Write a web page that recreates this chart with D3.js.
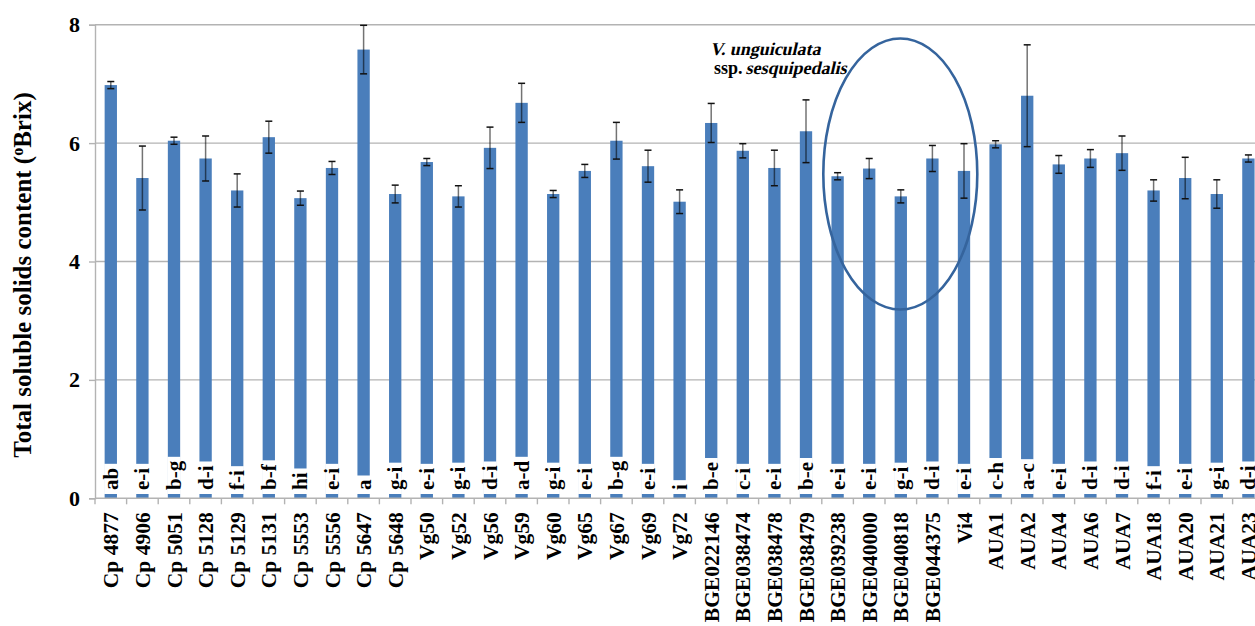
<!DOCTYPE html>
<html>
<head>
<meta charset="utf-8">
<script src="https://cdn.jsdelivr.net/npm/d3@7/dist/d3.min.js"></script>
<style>
  html, body { margin: 0; padding: 0; background: #fff; }
  svg { display: block; font-family: "Liberation Serif", "Times New Roman", serif; }
</style>
</head>
<body>
<svg id="chart" width="1255" height="626"></svg>
<script>
// Accessions (genotypes) along the x axis
const accessions = [
  "Cp 4877", "Cp 4906", "Cp 5051", "Cp 5128", "Cp 5129", "Cp 5131", "Cp 5553", "Cp 5556", "Cp 5647", "Cp 5648",
  "Vg50", "Vg52", "Vg56", "Vg59", "Vg60", "Vg65", "Vg67", "Vg69", "Vg72",
  "BGE022146", "BGE038474", "BGE038478", "BGE038479", "BGE039238", "BGE040000", "BGE040818", "BGE044375",
  "Vi4",
  "AUA1", "AUA2", "AUA4", "AUA6", "AUA7", "AUA18", "AUA20", "AUA21", "AUA23"
];

// Mean total soluble solids (ºBrix)
const tssMeans = [
  6.98, 5.41, 6.04, 5.74, 5.20, 6.10, 5.07, 5.58, 7.58, 5.14,
  5.68, 5.10, 5.92, 6.68, 5.14, 5.53, 6.04, 5.61, 5.01,
  6.34, 5.87, 5.58, 6.20, 5.44, 5.57, 5.10, 5.74,
  5.53,
  5.98, 6.80, 5.64, 5.74, 5.83, 5.20, 5.41, 5.14, 5.74
];

// Standard errors
const tssErrors = [
  0.06, 0.54, 0.06, 0.38, 0.28, 0.27, 0.12, 0.11, 0.41, 0.15,
  0.06, 0.18, 0.35, 0.33, 0.06, 0.11, 0.31, 0.27, 0.20,
  0.33, 0.12, 0.30, 0.53, 0.06, 0.17, 0.11, 0.22,
  0.46,
  0.06, 0.86, 0.15, 0.15, 0.29, 0.18, 0.35, 0.24, 0.06
];

// Mean separation letters
const groupLetters = [
  "ab", "e-i", "b-g", "d-i", "f-i", "b-f", "hi", "e-i", "a", "g-i",
  "e-i", "g-i", "d-i", "a-d", "g-i", "e-i", "b-g", "e-i", "i",
  "b-e", "c-i", "e-i", "b-e", "e-i", "e-i", "g-i", "d-i",
  "e-i",
  "c-h", "a-c", "e-i", "d-i", "d-i", "f-i", "e-i", "g-i", "d-i"
];

const yTicks = [0, 2, 4, 6, 8];

// Subgroup highlighted with an ellipse
const highlighted = ["BGE039238", "BGE040000", "BGE040818", "BGE044375", "Vi4"];

const serif = "'Liberation Serif', 'Times New Roman', serif";
const svg = d3.select("#chart");

const plotLeft = 95, plotBottom = 498.3, plotTop = 24.7;
const step = 31.6;

const x = d3.scaleBand()
  .domain(accessions)
  .range([plotLeft, plotLeft + accessions.length * step])
  .paddingInner(0.61)
  .paddingOuter(0.305);

const y = d3.scaleLinear().domain([0, 8]).range([plotBottom, plotTop]);

const gridColor = "#b3b3b3";

// horizontal gridlines
svg.append("g")
  .selectAll("line")
  .data(yTicks.filter(d => d > 0))
  .join("line")
  .attr("x1", plotLeft).attr("x2", 1255)
  .attr("y1", d => y(d)).attr("y2", d => y(d))
  .attr("stroke", gridColor).attr("stroke-width", 1.4);

// y axis
const yAxis = svg.append("g")
  .attr("transform", `translate(${plotLeft},0)`)
  .call(d3.axisLeft(y).tickValues(yTicks).tickSize(6).tickPadding(9));
yAxis.select(".domain").attr("stroke", gridColor).attr("stroke-width", 1.4);
yAxis.selectAll(".tick line").attr("stroke", gridColor).attr("stroke-width", 1.4);
yAxis.selectAll(".tick text")
  .attr("font-family", serif)
  .attr("font-weight", "bold")
  .attr("font-size", 22)
  .attr("fill", "#000");

// bars
const barColor = "#4a7ebb";
svg.append("g")
  .selectAll("rect")
  .data(accessions)
  .join("rect")
  .attr("x", d => x(d))
  .attr("width", x.bandwidth())
  .attr("y", (d, i) => y(tssMeans[i]))
  .attr("height", (d, i) => y(0) - y(tssMeans[i]))
  .attr("fill", barColor);

// error bars
const eb = svg.append("g");
accessions.forEach((d, i) => {
  const cx = x(d) + x.bandwidth() / 2;
  const hi = y(tssMeans[i] + tssErrors[i]);
  const lo = y(tssMeans[i] - tssErrors[i]);
  eb.append("line")
    .attr("x1", cx).attr("x2", cx).attr("y1", hi).attr("y2", lo)
    .attr("stroke", "#000").attr("stroke-opacity", 0.55).attr("stroke-width", 1.5);
  [hi, lo].forEach(v => {
    eb.append("line")
      .attr("x1", cx - 3.5).attr("x2", cx + 3.5).attr("y1", v).attr("y2", v)
      .attr("stroke", "#111").attr("stroke-width", 1.5);
  });
});

// letters on white boxes near the base of each bar
const lettersG = svg.append("g");
accessions.forEach((d, i) => {
  const cx = x(d) + x.bandwidth() / 2;
  const g = lettersG.append("g");
  const t = g.append("text")
    .attr("transform", `translate(${cx + 7},${490}) rotate(-90)`)
    .attr("text-anchor", "start")
    .attr("font-family", serif)
    .attr("font-weight", "bold")
    .attr("font-size", 21)
    .attr("fill", "#000")
    .text(groupLetters[i]);
  const w = t.node().getComputedTextLength();
  g.insert("rect", "text")
    .attr("x", x(d) - 0.5)
    .attr("width", x.bandwidth() + 1)
    .attr("y", 490 - w - 4)
    .attr("height", w + 8)
    .attr("fill", "#fff");
});

// x axis baseline and category separators
svg.append("line")
  .attr("x1", plotLeft).attr("x2", 1255)
  .attr("y1", plotBottom).attr("y2", plotBottom)
  .attr("stroke", gridColor).attr("stroke-width", 1.4);
svg.append("g")
  .selectAll("line")
  .data(d3.range(accessions.length + 1))
  .join("line")
  .attr("x1", k => plotLeft + k * x.step()).attr("x2", k => plotLeft + k * x.step())
  .attr("y1", plotBottom).attr("y2", plotBottom + 6)
  .attr("stroke", gridColor).attr("stroke-width", 1.4);

// category labels
const xAxis = svg.append("g")
  .attr("transform", `translate(0,${plotBottom})`)
  .call(d3.axisBottom(x).tickSize(0).tickPadding(0));
xAxis.select(".domain").remove();
xAxis.selectAll(".tick text")
  .attr("font-family", serif)
  .attr("font-weight", "bold")
  .attr("font-size", 21.5)
  .attr("fill", "#000")
  .attr("text-anchor", "end")
  .attr("dy", null)
  .attr("transform", "translate(7.5,14) rotate(-90)");

// y axis title
svg.append("text")
  .attr("transform", "translate(31,275) rotate(-90)")
  .attr("text-anchor", "middle")
  .attr("font-family", serif)
  .attr("font-weight", "bold")
  .attr("font-size", 25)
  .attr("fill", "#000")
  .call(t => {
    t.append("tspan").text("Total soluble solids content (");
    t.append("tspan").attr("baseline-shift", "super").attr("font-size", 16).text("o");
    t.append("tspan").text("Brix)");
  });

// ellipse around the sesquipedalis group
const gx0 = x(highlighted[0]), gx1 = x(highlighted[highlighted.length - 1]) + x.bandwidth();
svg.append("ellipse")
  .attr("cx", (gx0 + gx1) / 2 - 0.5)
  .attr("cy", 174)
  .attr("rx", 77)
  .attr("ry", 135.5)
  .attr("fill", "none")
  .attr("stroke", "#35649d")
  .attr("stroke-width", 2.6);

// group annotation (serif bold, slanted for the taxon names)
function slanted(px, py, str) {
  return svg.append("text")
    .attr("transform", `translate(${px},${py}) skewX(-13)`)
    .attr("font-family", serif)
    .attr("font-weight", "bold")
    .attr("font-size", 18)
    .attr("fill", "#000")
    .text(str);
}
slanted(710, 55, "V. unguiculata");
const ssp = svg.append("text")
  .attr("x", 714).attr("y", 74)
  .attr("font-family", serif)
  .attr("font-weight", "bold")
  .attr("font-size", 18)
  .attr("fill", "#000")
  .text("ssp.");
slanted(714 + ssp.node().getComputedTextLength() + 3, 74, "sesquipedalis");
</script>
</body>
</html>
